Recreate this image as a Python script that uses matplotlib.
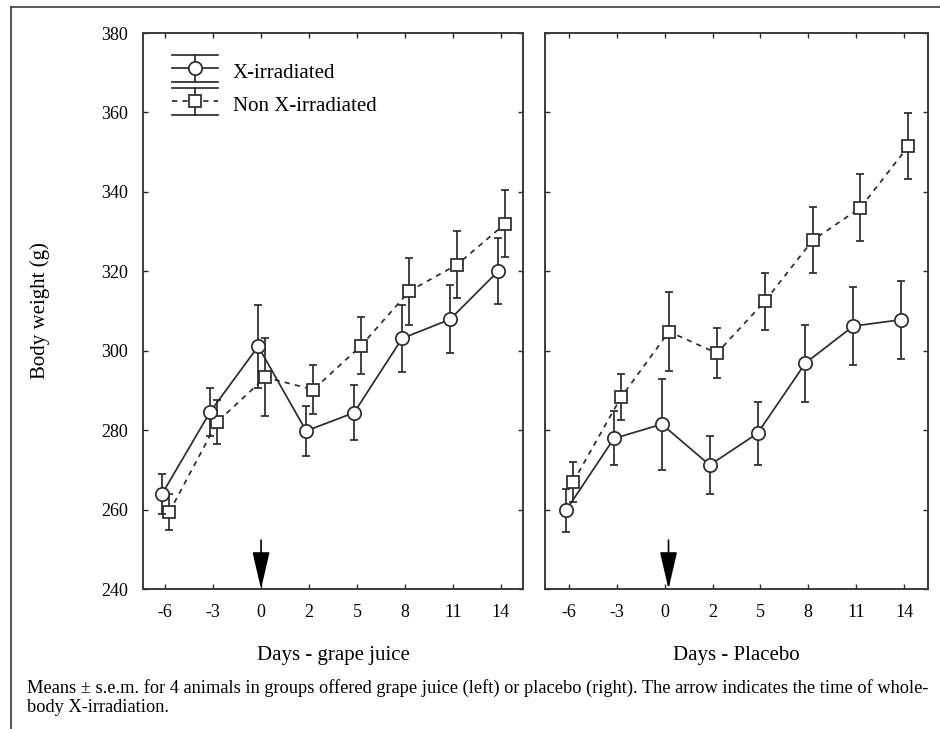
import matplotlib
matplotlib.use("Agg")
import matplotlib.pyplot as plt
import numpy as np
from matplotlib.lines import Line2D
from matplotlib.legend_handler import HandlerBase

# ---------------------------------------------------------------
# Body weight (g), means and s.e.m.
# ---------------------------------------------------------------
days = ["-6", "-3", "0", "2", "5", "8", "11", "14"]
irr_day = "0"   # day of whole-body X-irradiation (arrow)

gj_xirr = [264.0, 284.6, 301.1, 279.8, 284.4, 303.1, 307.9, 320.0]
gj_xirr_sem = [5.0, 6.0, 10.5, 6.2, 7.0, 8.4, 8.6, 8.3]
gj_non = [259.4, 282.1, 293.3, 290.2, 301.3, 315.0, 321.7, 332.0]
gj_non_sem = [4.6, 5.6, 9.8, 6.2, 7.2, 8.4, 8.4, 8.4]

pl_xirr = [259.8, 277.9, 281.5, 271.2, 279.2, 296.9, 306.2, 307.8]
pl_xirr_sem = [5.4, 6.8, 11.5, 7.3, 8.0, 9.7, 9.9, 9.8]
pl_non = [267.0, 288.3, 304.8, 299.4, 312.4, 327.8, 336.0, 351.5]
pl_non_sem = [5.0, 5.8, 10.0, 6.2, 7.1, 8.3, 8.4, 8.3]

INK = "#2b2b2b"
plt.rcParams["font.family"] = ["Liberation Serif", "DejaVu Serif"]


class HandlerCapped(HandlerBase):
    """Legend key: line + marker with a vertical bar and full-width caps."""
    def create_artists(self, legend, orig, xdescent, ydescent, width, height,
                       fontsize, trans):
        x0, x1 = -xdescent, -xdescent + width
        xc = (x0 + x1) / 2
        yc = (height - ydescent) / 2
        half = 0.66 * fontsize
        col, lw = orig.get_color(), orig.get_linewidth()
        stem = Line2D([xc, xc], [yc - half, yc + half], color=col, lw=lw)
        cap_lo = Line2D([x0, x1], [yc - half] * 2, color=col, lw=lw)
        cap_hi = Line2D([x0, x1], [yc + half] * 2, color=col, lw=lw)
        line = Line2D([x0, x1], [yc, yc])
        line.update_from(orig)
        line.set_marker("None")
        mk = Line2D([xc], [yc])
        mk.update_from(orig)
        mk.set_linestyle("None")
        arts = [stem, cap_lo, cap_hi, line, mk]
        for a in arts:
            a.set_transform(trans)
        return arts


W, H = 940, 729
fig = plt.figure(figsize=(W / 100, H / 100), dpi=100)
ax1 = fig.add_axes([143 / W, 1 - 589 / H, 380 / W, 556 / H])
ax2 = fig.add_axes([545 / W, 1 - 589 / H, 383 / W, 556 / H], sharey=ax1)

x = np.arange(len(days))
style_x = dict(marker="o", ms=9.6, mfc="white", mec=INK, mew=1.25,
               color=INK, lw=1.25, ls="-")
style_n = dict(marker="s", ms=8.8, mfc="white", mec=INK, mew=1.25,
               color=INK, lw=1.25, ls=(0, (3, 3)))
err_kw = dict(ecolor=INK, elinewidth=1.25, capsize=2.6, capthick=1.25)

panels = [
    (ax1, gj_xirr, gj_xirr_sem, gj_non, gj_non_sem, "Days - grape juice",
     0.0, (-0.46, 7.46)),
    (ax2, pl_xirr, pl_xirr_sem, pl_non, pl_non_sem, "Days - Placebo",
     0.08, (-0.5, 7.5)),
]

for ax, xm, xs, nm, ns, xlabel, arrow_dx, xlim in panels:
    ax.errorbar(x + 0.09, nm, yerr=ns, **style_n, **err_kw, zorder=3)
    ax.errorbar(x - 0.06, xm, yerr=xs, **style_x, **err_kw, zorder=4)

    xa = days.index(irr_day) + arrow_dx
    ax.annotate("", xy=(xa, 240), xytext=(xa, 252.3),
                arrowprops=dict(arrowstyle="-|>,head_length=1.55,head_width=0.36",
                                mutation_scale=15, color="black", lw=1.2,
                                shrinkA=0, shrinkB=0), zorder=5)

    ax.set_xlim(*xlim)
    ax.set_ylim(240, 380)
    ax.set_xticks(x)
    ax.set_xticklabels(days)
    ax.set_yticks(np.arange(240, 381, 20))
    ax.tick_params(direction="in", top=True, right=True, length=3.8,
                   width=1.0, color=INK, labelsize=13, pad=11)
    ax.set_xlabel(xlabel, fontsize=15, labelpad=18)
    for sp in ax.spines.values():
        sp.set_linewidth(1.4)
        sp.set_color("#3a3a3a")

ax2.tick_params(labelleft=False)

h_x = Line2D([], [], **style_x)
h_n = Line2D([], [], **style_n)
ax1.legend([h_x, h_n], ["X-irradiated", "Non X-irradiated"],
           handler_map={Line2D: HandlerCapped()},
           loc="upper left", bbox_to_anchor=(29 / 380, 1 - 26 / 556),
           frameon=False, fontsize=15, borderpad=0, borderaxespad=0,
           handlelength=2.2, handleheight=1.35, handletextpad=0.72,
           labelspacing=0.45)

fig.text(40 / W, 1 - 311 / H, "Body weight (g)", rotation=90,
         ha="center", va="center", fontsize=15)

fig.text(27 / W, 1 - 688 / H,
         "Means \u00b1 s.e.m. for 4 animals in groups offered grape juice (left) "
         "or placebo (right). The arrow indicates the time of whole-",
         ha="left", va="center", fontsize=13.2)
fig.text(27 / W, 1 - 708 / H, "body X-irradiation.",
         ha="left", va="center", fontsize=13.2)

# outer frame of the figure panel
fig.add_artist(Line2D([11 / W, 1], [1 - 7 / H] * 2, transform=fig.transFigure,
                      color="#3a3a3a", lw=1.2))
fig.add_artist(Line2D([11 / W] * 2, [0, 1 - 7 / H], transform=fig.transFigure,
                      color="#3a3a3a", lw=1.2))

fig.savefig("out.png", dpi=100)
